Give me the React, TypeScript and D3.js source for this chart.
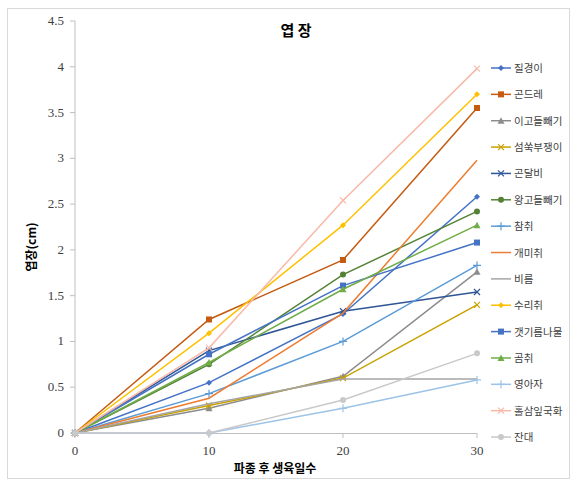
import React from "react";
import * as d3 from "d3";

const days = [0, 10, 20, 30];
const seriesNames = ["질경이", "곤드레", "이고들빼기", "섬쑥부쟁이", "곤달비", "왕고들빼기", "참취", "개미취", "비름", "수리취", "갯기름나물", "곰취", "영아자", "홀삼잎국화", "잔대"];
const v질경이 = [0, 0.55, 1.30, 2.58];
const v곤드레 = [0, 1.24, 1.89, 3.55];
const v이고들빼기 = [0, 0.27, 0.62, 1.76];
const v섬쑥부쟁이 = [0, 0.30, 0.60, 1.40];
const v곤달비 = [0, 0.90, 1.33, 1.54];
const v왕고들빼기 = [0, 0.75, 1.73, 2.42];
const v참취 = [0, 0.43, 1.00, 1.83];
const v개미취 = [0, 0.38, 1.31, 2.98];
const v비름 = [0, 0.32, 0.59, 0.59];
const v수리취 = [0, 1.09, 2.27, 3.70];
const v갯기름나물 = [0, 0.86, 1.61, 2.08];
const v곰취 = [0, 0.77, 1.57, 2.27];
const v영아자 = [0, 0, 0.27, 0.58];
const v홀삼잎국화 = [0, 0.93, 2.54, 3.98];
const v잔대 = [0, 0, 0.36, 0.87];
const seriesValues = [v질경이, v곤드레, v이고들빼기, v섬쑥부쟁이, v곤달비, v왕고들빼기, v참취, v개미취, v비름, v수리취, v갯기름나물, v곰취, v영아자, v홀삼잎국화, v잔대];
const colors = ["#4472C4", "#C55A11", "#8C8C8C", "#C9A100", "#2F5597", "#548235", "#5B9BD5", "#ED7D31", "#A5A5A5", "#FFC000", "#4472C4", "#70AD47", "#9DC3E6", "#F8B9A8", "#C9C9C9"];
const markers = ["diamond", "square", "triangle", "x", "x", "circle", "plus", "none", "none", "diamond", "square", "triangle", "plus", "x", "circle"];
const yTicks = [0, 0.5, 1, 1.5, 2, 2.5, 3, 3.5, 4, 4.5];
const yTickLabels = ["0", "0.5", "1", "1.5", "2", "2.5", "3", "3.5", "4", "4.5"];
const xTicks = [0, 10, 20, 30];

function Marker({ type, x, y, color }: { type: string; x: number; y: number; color: string }) {
  const s = 3;
  if (type === "none") return null;
  if (type === "diamond") return <path d={`M${x},${y - s}L${x + s},${y}L${x},${y + s}L${x - s},${y}Z`} fill={color} />;
  if (type === "square") return <rect x={x - s} y={y - s} width={2 * s} height={2 * s} fill={color} />;
  if (type === "triangle") return <path d={`M${x},${y - s - 0.5}L${x + s + 0.5},${y + s}L${x - s - 0.5},${y + s}Z`} fill={color} />;
  if (type === "circle") return <circle cx={x} cy={y} r={s} fill={color} />;
  if (type === "x") return <path d={`M${x - s},${y - s}L${x + s},${y + s}M${x - s},${y + s}L${x + s},${y - s}`} stroke={color} strokeWidth={1.2} />;
  if (type === "plus") return <path d={`M${x - s - 1},${y}L${x + s + 1},${y}M${x},${y - s - 1}L${x},${y + s + 1}`} stroke={color} strokeWidth={1.2} />;
  return null;
}

export default function App() {
  const W = 577, H = 486;
  const x = d3.scaleLinear().domain([0, 30]).range([75, 477]);
  const y = d3.scaleLinear().domain([0, 4.5]).range([433, 21]);
  const line = d3.line<number>().x((_, i) => x(days[i])).y((d) => y(d));
  const serif = "'Liberation Serif', 'DejaVu Serif', serif";
  const sans = "'Noto Sans CJK KR', 'Noto Sans', sans-serif";
  const legendY0 = 68, legendStep = 26.36;
  return (
    <svg width={W} height={H} style={{ position: "absolute", left: 0, top: 0 }}>
      <rect x={0} y={0} width={W} height={H} fill="#fff" />
      <rect x={7.5} y={8.5} width={562} height={470} fill="none" stroke="#D9D9D9" />
      <text x={296} y={36} textAnchor="middle" fontFamily={sans} fontWeight="bold" fontSize={15} fill="#000">엽 장</text>
      {/* axes */}
      <line x1={75} x2={75} y1={y(4.5)} y2={y(0)} stroke="#BFBFBF" />
      <line x1={75} x2={477} y1={433.5} y2={433.5} stroke="#BFBFBF" />
      {yTicks.map((t, i) => (
        <g key={t}>
          <line x1={70} x2={75} y1={y(t)} y2={y(t)} stroke="#BFBFBF" />
          <text x={64} y={y(t) + 4} textAnchor="end" fontFamily={serif} fontSize={13} fill="#404040">{yTickLabels[i]}</text>
        </g>
      ))}
      {xTicks.map((t) => (
        <g key={t}>
          <line x1={x(t)} x2={x(t)} y1={433} y2={438} stroke="#BFBFBF" />
          <text x={x(t)} y={455} textAnchor="middle" fontFamily={serif} fontSize={13} fill="#404040">{t}</text>
        </g>
      ))}
      <text x={275} y={473} textAnchor="middle" fontFamily={sans} fontWeight="bold" fontSize={12} fill="#000">파종 후 생육일수</text>
      <text transform={`translate(36,247) rotate(-90)`} textAnchor="middle" fontFamily={sans} fontWeight="bold" fontSize={12} fill="#000">엽장(cm)</text>
      {/* series */}
      {seriesValues.map((vals, si) => (
        <g key={si}>
          <path d={line(vals) || ""} fill="none" stroke={colors[si]} strokeWidth={1.5} />
          {vals.map((v, i) => (
            <Marker key={i} type={markers[si]} x={x(days[i])} y={y(v)} color={colors[si]} />
          ))}
        </g>
      ))}
      {/* legend */}
      {seriesNames.map((n, i) => {
        const ly = legendY0 + i * legendStep;
        return (
          <g key={n}>
            <line x1={491} x2={511} y1={ly} y2={ly} stroke={colors[i]} strokeWidth={1.5} />
            <Marker type={markers[i]} x={501} y={ly} color={colors[i]} />
            <text x={514} y={ly + 4} fontFamily={sans} fontSize={10.5} fill="#404040">{n}</text>
          </g>
        );
      })}
    </svg>
  );
}
